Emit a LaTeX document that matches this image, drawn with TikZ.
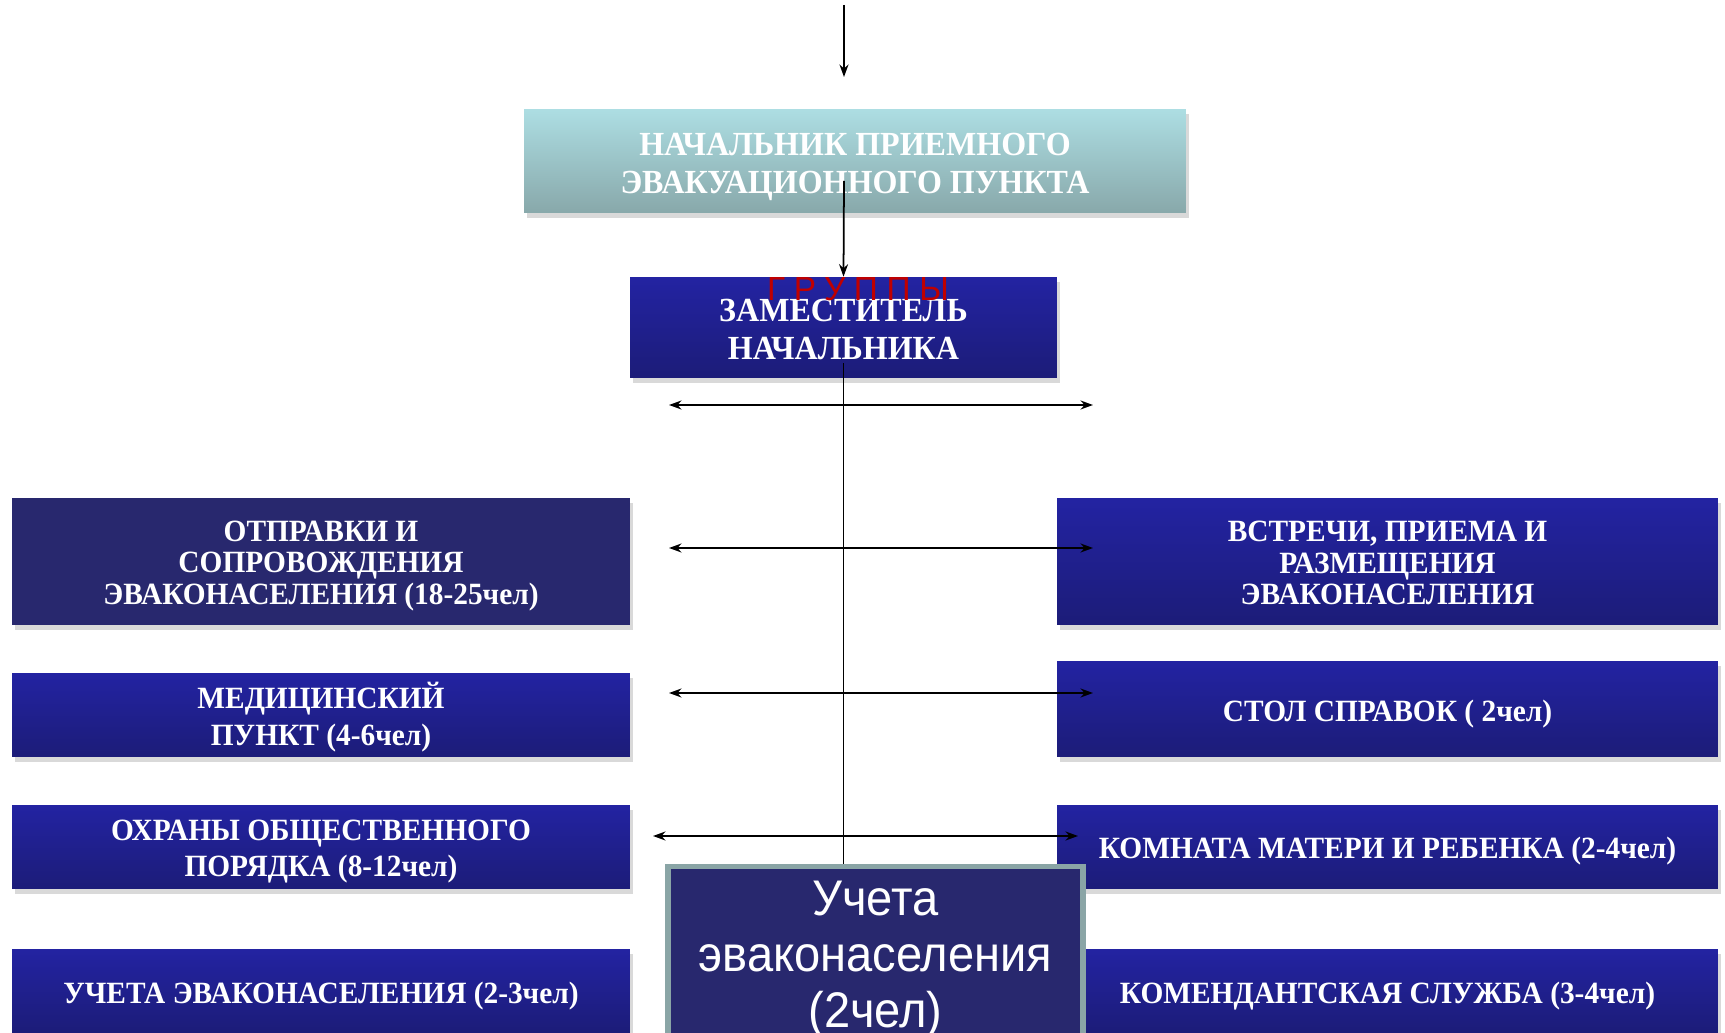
\documentclass[tikz,border=0pt]{standalone}
\usepackage{fontspec}
\setmainfont{Liberation Serif}
\newfontfamily\boxfont[FakeStretch=0.95]{Liberation Serif}
\newfontfamily\grpfont[LetterSpace=26]{Liberation Sans}
\newfontfamily\arialfont[FakeStretch=0.94]{Liberation Sans}
\usetikzlibrary{arrows.meta,shadows}

\definecolor{boxtop}{RGB}{35,35,162}
\definecolor{boxbot}{RGB}{28,28,120}
\definecolor{navy}{RGB}{40,40,110}
\definecolor{chieftop}{RGB}{173,222,227}
\definecolor{chiefbot}{RGB}{136,168,170}
\definecolor{framegray}{RGB}{138,165,166}
\definecolor{grpred}{RGB}{192,0,0}

\begin{document}
\lineskiplimit=-30pt
\begin{tikzpicture}[x=0.02cm,y=-0.02cm,
    box/.style={rectangle, inner sep=0pt,
      drop shadow={shadow xshift=1.5pt, shadow yshift=-3pt, opacity=0.3}},
    bluebox/.style={box, top color=boxtop, bottom color=boxbot},
    navybox/.style={box, fill=navy},
    boxtext/.style={inner sep=0pt, text=white, align=center,
      font=\boxfont\bfseries\fontsize{17.6}{#1}\selectfont},
    boxtext/.default=18,
    headtext/.style={inner sep=0pt, text=white, align=center,
      font=\boxfont\bfseries\fontsize{19.2}{21.8}\selectfont},
    arr/.style={-{Stealth[length=2.5mm,width=1.8mm]}, line width=1pt},
    link/.style={{Stealth[length=2.5mm,width=1.8mm]}-{Stealth[length=2.5mm,width=1.8mm]}, line width=1pt}]
  \useasboundingbox (0,0) rectangle (1725,1033);
  \clip (0,0) rectangle (1725,1033);

  \node[box, top color=chieftop, bottom color=chiefbot, minimum width=13.24cm, minimum height=2.08cm] (chief) at (855,161) {};
  \node[headtext] (chieftext) at ([yshift=-3.4pt]chief.center) {НАЧАЛЬНИК ПРИЕМНОГО\\ЭВАКУАЦИОННОГО ПУНКТА};
  \node[bluebox, minimum width=8.54cm, minimum height=2.02cm] (deputy) at (843.5,327.5) {};
  \node[headtext] (deputytext) at ([yshift=-1pt]deputy.center) {ЗАМЕСТИТЕЛЬ\\НАЧАЛЬНИКА};
  \node[text=grpred, inner sep=0pt, font=\grpfont\fontsize{19}{19}\selectfont] (groups) at (858,289) {ГРУППЫ};

  \node[navybox, minimum width=12.36cm, minimum height=2.54cm] (send) at (321,561.5) {};
  \node[boxtext] (sendtext) at ([yshift=-2.5pt]send.center) {ОТПРАВКИ И\\СОПРОВОЖДЕНИЯ\\ЭВАКОНАСЕЛЕНИЯ (18-25чел)};
  \foreach \name/\y/\dy/\gap/\txt in {med/715/1.2/20.6/{МЕДИЦИНСКИЙ\\ПУНКТ (4-6чел)},
                                      guard/847/2.5/20.6/{ОХРАНЫ ОБЩЕСТВЕННОГО\\ПОРЯДКА (8-12чел)},
                                      record/991/3/18/{УЧЕТА ЭВАКОНАСЕЛЕНИЯ (2-3чел)}}{
    \node[bluebox, minimum width=12.36cm, minimum height=1.68cm] (\name) at (321,\y) {};
    \node[boxtext=\gap] (\name text) at ([yshift=-\dy pt]\name.center) {\txt};
  }

  \node[bluebox, minimum width=13.22cm, minimum height=2.54cm] (meet) at (1387.5,561.5) {};
  \node[boxtext] (meettext) at ([yshift=-1pt]meet.center) {ВСТРЕЧИ, ПРИЕМА И\\РАЗМЕЩЕНИЯ\\ЭВАКОНАСЕЛЕНИЯ};
  \node[bluebox, minimum width=13.22cm, minimum height=1.92cm] (info) at (1387.5,709) {};
  \node[boxtext] (infotext) at ([yshift=-3pt]info.center) {СТОЛ СПРАВОК ( 2чел)};
  \foreach \name/\y/\dy/\txt in {mother/847/2.5/{КОМНАТА МАТЕРИ И РЕБЕНКА (2-4чел)},
                                 guards/991/3/{КОМЕНДАНТСКАЯ СЛУЖБА (3-4чел)}}{
    \node[bluebox, minimum width=13.22cm, minimum height=1.68cm] (\name) at (1387.5,\y) {};
    \node[boxtext] (\name text) at ([yshift=-\dy pt]\name.center) {\txt};
  }

  \node[rectangle, fill=navy, draw=framegray, line width=3.2pt, minimum width=8.3cm, minimum height=3.72cm,
    text=white, align=center, font=\arialfont\fontsize{28.5}{32}\selectfont] (count) at (875.5,959.5) {Учета\\эваконаселения\\(2чел)};

  \coordinate (in) at (844,5);
  \coordinate (inend) at (844,77);
  \coordinate (chiefout) at (844,181);
  \draw[arr] (in) -- (inend);
  \draw[arr] (chiefout) -- (deputy.north);
  \draw[line width=1pt] ([yshift=0.3cm]deputy.south) -- (deputy.south |- count.north);

  \foreach \row/\y/\xa/\xb in {1/405/669/1093, 2/548/669/1093, 3/693/669/1093, 4/836/653/1078}{
    \coordinate (west\row) at (\xa,\y);
    \coordinate (east\row) at (\xb,\y);
    \draw[link] (west\row) -- (east\row);
  }
\end{tikzpicture}
\end{document}
